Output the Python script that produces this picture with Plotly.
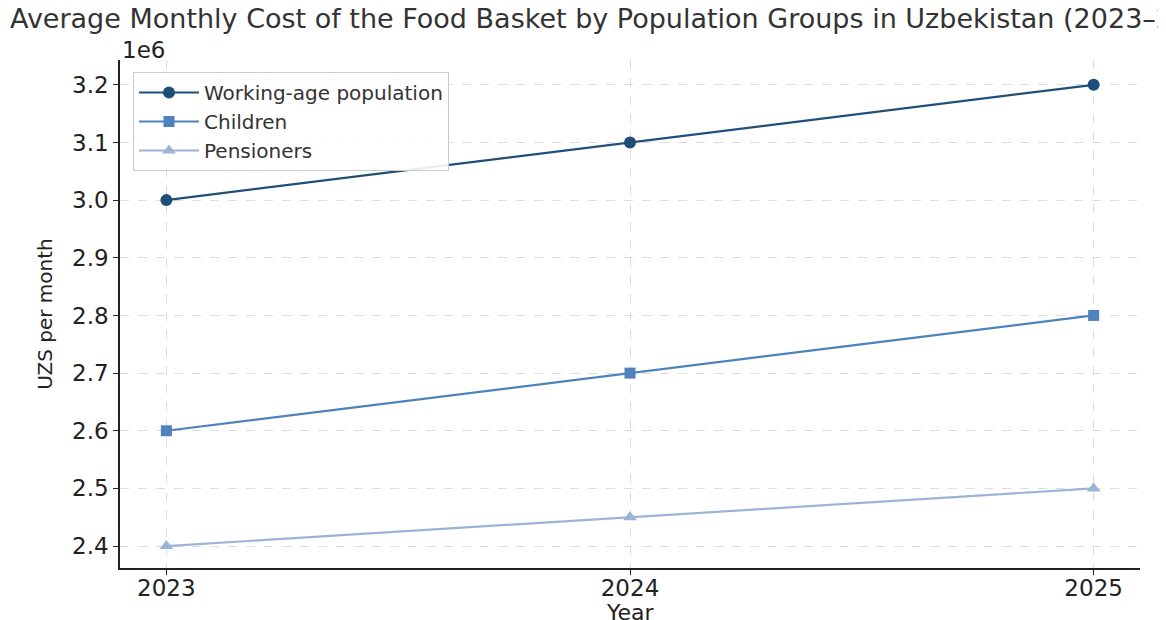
import plotly.graph_objects as go

years = [2023, 2024, 2025]
working_age = [3000000, 3100000, 3200000]
children = [2600000, 2700000, 2800000]
pensioners = [2400000, 2450000, 2500000]
y_ticks = [2400000, 2500000, 2600000, 2700000, 2800000, 2900000, 3000000, 3100000, 3200000]
y_tick_labels = ["2.4", "2.5", "2.6", "2.7", "2.8", "2.9", "3.0", "3.1", "3.2"]
x_tick_labels = ["2023", "2024", "2025"]

FONT = "DejaVu Sans"
# page body adds ~8px margin, so figure is 1158x612 and coordinates are offset by 8px
fig = go.Figure()
fig.add_trace(go.Scatter(x=years, y=working_age, name="Working-age population", mode="lines+markers",
                         line=dict(color="#1f4e79", width=2.2), marker=dict(symbol="circle", size=12)))
fig.add_trace(go.Scatter(x=years, y=children, name="Children", mode="lines+markers",
                         line=dict(color="#4f81bd", width=2.2), marker=dict(symbol="square", size=11)))
fig.add_trace(go.Scatter(x=years, y=pensioners, name="Pensioners", mode="lines+markers",
                         line=dict(color="#9bb3d6", width=2.2), marker=dict(symbol="triangle-up", size=12)))

fig.update_layout(
    width=1158, height=612,
    margin=dict(l=112, r=26, t=52, b=52),
    paper_bgcolor="white", plot_bgcolor="white",
    font=dict(family=FONT, color="#262626"),
    title=dict(text="Average Monthly Cost of the Food Basket by Population Groups in Uzbekistan (2023–2025)",
               x=2/1158, xanchor="left", xref="container", y=1-11/612, yanchor="middle", yref="container",
               pad=dict(l=0, r=0, t=0, b=0),
               font=dict(size=27, family=FONT, color="#333333")),
    showlegend=True,
    legend=dict(x=13/1020, y=1-12/508, xanchor="left", yanchor="top", bgcolor="rgba(255,255,255,0.9)",
                bordercolor="#cccccc", borderwidth=1, font=dict(size=20, family=FONT, color="#333333"),
                tracegroupgap=0, itemwidth=60),
    xaxis=dict(range=[2022.9, 2025.1], tickvals=years, ticktext=x_tick_labels, automargin=False,
               showline=True, linecolor="#222222", linewidth=1.5, mirror=False,
               ticks="outside", ticklen=5, tickcolor="#222222", ticklabelstandoff=-6,
               showgrid=True, gridcolor="#dddddd", griddash="dash", gridwidth=1, zeroline=False,
               tickfont=dict(size=23, family=FONT, color="#222222")),
    yaxis=dict(range=[2362000, 3243000], tickvals=y_ticks, ticktext=y_tick_labels, automargin=False,
               showline=True, linecolor="#222222", linewidth=1.5, mirror=False,
               ticks="outside", ticklen=5, tickcolor="#222222",
               showgrid=True, gridcolor="#dddddd", griddash="dash", gridwidth=1, zeroline=False,
               tickfont=dict(size=23, family=FONT, color="#222222"),
               title=dict(text="UZS per month", font=dict(size=20, family=FONT, color="#222222"), standoff=14)),
    annotations=[
        dict(text="1e6", xref="paper", yref="paper", x=0, y=1, xanchor="left", yanchor="bottom",
             xshift=0, yshift=-5, showarrow=False, font=dict(size=23, family=FONT, color="#222222")),
        dict(text="Year", xref="paper", yref="paper", x=0.5, y=0, xanchor="center", yanchor="top",
             yshift=-30, showarrow=False, font=dict(size=22, family=FONT, color="#222222")),
    ],
)

fig.write_html("out.html")
